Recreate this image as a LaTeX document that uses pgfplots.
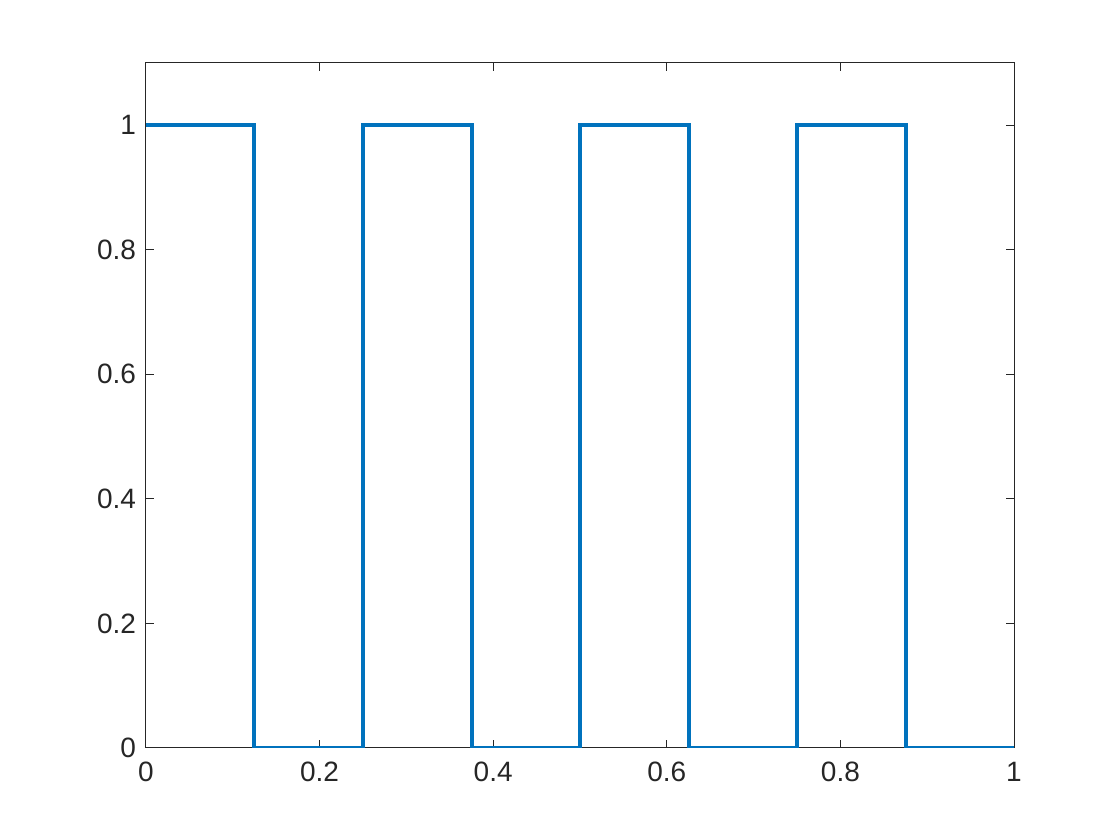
\documentclass[border=0pt]{standalone}
\usepackage{fontspec}
\setmainfont{Liberation Sans}
\usepackage{pgfplots}
\pgfplotsset{compat=1.18}
\definecolor{mblue}{rgb}{0,0.447,0.741}
\definecolor{axgray}{rgb}{0.15,0.15,0.15}
\begin{document}
\begin{tikzpicture}
\path[use as bounding box] (-73pt,-46pt) rectangle (487pt,374pt);
\begin{axis}[
  at={(0,0)}, anchor=south west,
  scale only axis, width=434pt, height=342.5pt,
  xmin=0, xmax=1, ymin=0, ymax=1.1,
  xtick={0,0.2,0.4,0.6,0.8,1},
  ytick={0,0.2,0.4,0.6,0.8,1},
  xticklabels={0,0.2,0.4,0.6,0.8,1},
  yticklabels={0,0.2,0.4,0.6,0.8,1},
  tick align=inside, tick pos=both,
  major tick length=4pt,
  axis line style={axgray, line width=0.5pt},
  every tick/.style={axgray, line width=0.5pt},
  ticklabel style={font=\fontsize{14}{16}\selectfont, text=axgray},
  xticklabel style={yshift=-3.5pt},
  yticklabel style={xshift=-1.5pt},
]
\addplot[mblue, line width=2pt, line join=miter] coordinates {
(0,1) (0.125,1) (0.125,0) (0.25,0) (0.25,1) (0.375,1) (0.375,0) (0.5,0) (0.5,1)
(0.625,1) (0.625,0) (0.75,0) (0.75,1) (0.875,1) (0.875,0) (1,0)
};
\end{axis}
\end{tikzpicture}
\end{document}
